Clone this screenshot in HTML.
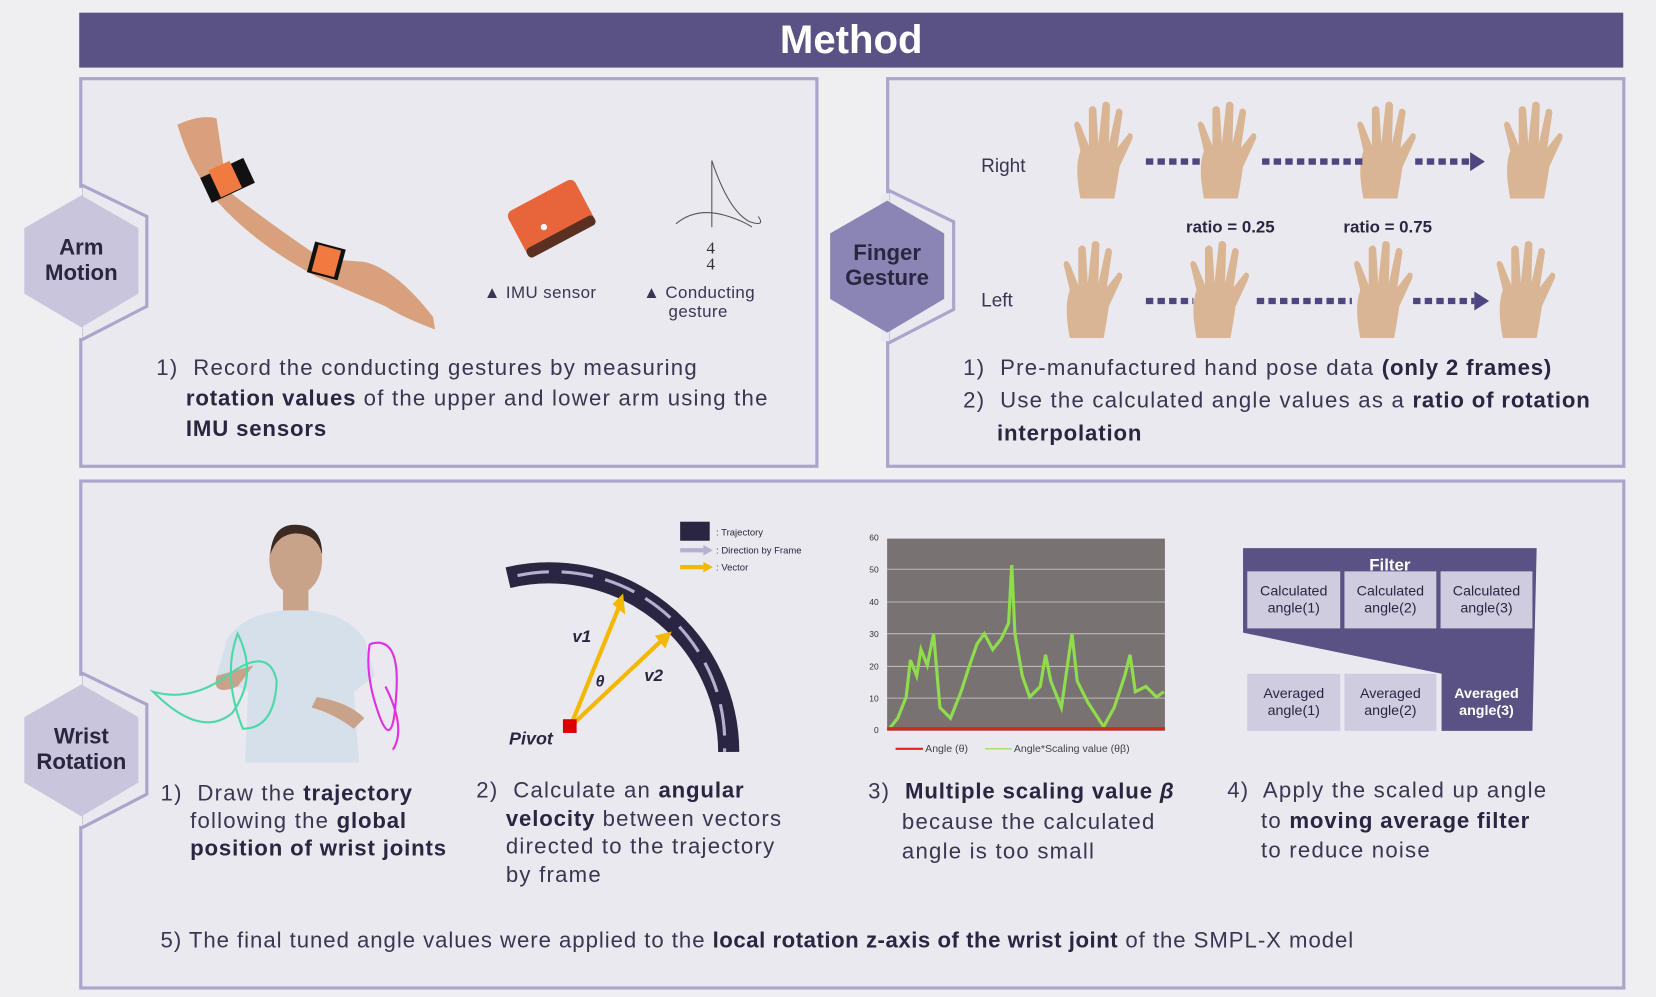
<!DOCTYPE html>
<html><head><meta charset="utf-8"><style>
html,body{margin:0;padding:0;background:#efeff2;width:1656px;height:997px;overflow:hidden}
#w{position:absolute;left:0;top:0;width:1568px;height:944px;transform:scale(1.05612);transform-origin:0 0;font-family:"Liberation Sans",sans-serif;color:#2a2540}
.a{position:absolute}
.panel{position:absolute;background:#e9e9ef;border:3px solid #aaa5cb;box-sizing:border-box}
.t{position:absolute;font-size:21px;line-height:29px;color:#3a3550;letter-spacing:1.15px;white-space:nowrap}
b{color:#2a2540;letter-spacing:0.8px}
.cell{position:absolute;background:#cfcce0;font-size:13.5px;line-height:16px;text-align:center;display:flex;align-items:center;justify-content:center;color:#2a2540}
</style></head><body><div id="w">
<div class="a" style="left:75px;top:12px;width:1462px;height:52px;background:#5a5185;color:#fff;font-weight:bold;font-size:38px;line-height:52px;text-align:center">Method</div>
<div class="panel" style="left:75px;top:73px;width:700px;height:370px"></div>
<div class="panel" style="left:839px;top:73px;width:700px;height:370px"></div>
<div class="panel" style="left:75px;top:454px;width:1464px;height:483px"></div>
<svg class="a" style="left:0;top:0" width="1568" height="944">
<g fill="#e9e9ef" stroke="#aaa5cb" stroke-width="3">
<polygon points="77,175 139,205 139,290 77,322"/>
<polygon points="841,180 903,210 903,293 841,325"/>
<polygon points="77,637 139,667 139,752 77,784"/>
</g>
<rect x="70" y="178" width="8" height="142" fill="#efeff2"/>
<rect x="834" y="183" width="8" height="140" fill="#e9e9ef"/>
<rect x="70" y="640" width="8" height="142" fill="#efeff2"/>
<polygon points="77,185 131,216 131,278 77,310 23,278 23,216" fill="#c8c5dc"/>
<polygon points="840,190 894,221 894,283 840,315 786,283 786,221" fill="#8b85b6"/>
<polygon points="77,648 131,679 131,741 77,773 23,741 23,679" fill="#c8c5dc"/>
<path d="M168,118 Q190,108 205,112 L215,180 Q260,215 305,245 L345,248 Q375,255 410,300 L412,312 Q380,300 365,290 Q330,275 300,262 Q240,230 205,190 Q180,160 168,118Z" fill="#d8a07c"/>
<rect x="193" y="158" width="45" height="26" fill="#111" transform="rotate(-25 215 171)"/>
<rect x="203" y="155" width="22" height="28" fill="#f07a40" transform="rotate(-25 215 171)"/>
<rect x="294" y="232" width="30" height="30" fill="#111" transform="rotate(15 309 247)"/>
<rect x="298" y="234" width="22" height="26" fill="#f07a40" transform="rotate(15 309 247)"/>
<g transform="rotate(-28 520 205)"><rect x="485" y="183" width="72" height="46" rx="6" fill="#e8643a"/><rect x="485" y="222" width="72" height="10" rx="4" fill="#5a3020"/></g>
<circle cx="515" cy="215" r="3" fill="#fff"/>
<path d="M674,152 L674,215 M674,152 Q690,200 710,210 Q725,215 718,205 M640,212 Q660,195 690,205 Q705,210 712,215" stroke="#555" fill="none" stroke-width="1"/>
<text x="669" y="255" font-family="Liberation Serif,serif" font-size="16" fill="#333">4</text>
<text x="669" y="240" font-family="Liberation Serif,serif" font-size="16" fill="#333">4</text>
<defs><g id="h"><path d="M-22,40 Q-28,10 -22,-5 L-28,-30 Q-26,-36 -22,-30 L-14,-10 L-14,-45 Q-10,-50 -7,-45 L-5,-12 L-1,-50 Q3,-54 6,-49 L5,-12 L12,-44 Q16,-47 18,-42 L13,-8 L24,-22 Q29,-22 27,-16 L15,10 Q12,30 10,40Z" fill="#d9b594"/></g></defs>
<use href="#h" x="1045" y="148"/><use href="#h" x="1162" y="148"/><use href="#h" x="1313" y="148"/><use href="#h" x="1452" y="148"/>
<use href="#h" x="1035" y="280"/><use href="#h" x="1155" y="280"/><use href="#h" x="1310" y="280"/><use href="#h" x="1445" y="280"/>
<g stroke="#4d4680" stroke-width="6" stroke-dasharray="7,4"><line x1="1085" y1="153" x2="1140" y2="153"/><line x1="1195" y1="153" x2="1290" y2="153"/><line x1="1340" y1="153" x2="1392" y2="153"/>
<line x1="1085" y1="285" x2="1130" y2="285"/><line x1="1190" y1="285" x2="1280" y2="285"/><line x1="1338" y1="285" x2="1396" y2="285"/></g>
<polygon points="1392,144 1406,153 1392,162" fill="#4d4680"/><polygon points="1396,276 1410,285 1396,294" fill="#4d4680"/>
<ellipse cx="280" cy="530" rx="25" ry="33" fill="#c9a28a"/><path d="M256,525 Q258,495 282,497 Q305,498 305,525 Q300,505 280,505 Q262,506 256,525Z" fill="#3a2a22"/>
<rect x="268" y="558" width="24" height="25" fill="#c9a28a"/>
<path d="M215,605 Q230,582 268,578 L292,578 Q330,582 345,605 L355,640 L335,655 L340,722 L232,722 L235,655 L205,640Z" fill="#d5e0ea"/>
<path d="M205,640 Q200,660 225,650 L240,630 Z M300,660 Q330,665 345,680 L335,690 Q315,675 295,670Z" fill="#c9a28a"/>
<path d="M145,655 Q190,700 220,675 Q245,640 225,600 Q210,640 230,690 Q260,690 262,645 Q255,610 215,640 Q180,665 145,655Z" fill="none" stroke="#4ed8a8" stroke-width="2"/>
<path d="M350,610 Q380,600 375,660 Q372,710 360,680 Q345,640 350,610 M365,650 Q385,690 372,710" fill="none" stroke="#e030e0" stroke-width="2"/>
<path d="M481,547 A170,170 0 0 1 690,712" fill="none" stroke="#2a2540" stroke-width="20"/>
<path d="M490,545 A162,162 0 0 1 686,712" fill="none" stroke="#b4b0d0" stroke-width="3" stroke-dasharray="30,12"/>
<g stroke="#f5b800" stroke-width="4"><line x1="540" y1="688" x2="586" y2="575"/><line x1="540" y1="688" x2="628" y2="605"/></g>
<polygon points="580,572 590,562 592,582" fill="#f5b800"/><polygon points="620,602 636,598 630,614" fill="#f5b800"/>
<rect x="533" y="681" width="13" height="13" fill="#d00"/>
<text x="542" y="608" font-size="16" font-weight="bold" font-style="italic" fill="#2a2540">v1</text>
<text x="610" y="645" font-size="16" font-weight="bold" font-style="italic" fill="#2a2540">v2</text>
<text x="564" y="650" font-size="15" font-weight="bold" font-style="italic" fill="#2a2540">θ</text>
<text x="482" y="705" font-size="17" font-weight="bold" font-style="italic" fill="#2a2540">Pivot</text>
<rect x="644" y="494" width="28" height="18" fill="#2a2540"/>
<line x1="644" y1="521" x2="666" y2="521" stroke="#b4b0d0" stroke-width="4"/><polygon points="666,516 675,521 666,526" fill="#b4b0d0"/>
<line x1="644" y1="537" x2="666" y2="537" stroke="#f5b800" stroke-width="4"/><polygon points="666,532 675,537 666,542" fill="#f5b800"/>
<g font-size="9" fill="#2a2540"><text x="678" y="507">: Trajectory</text><text x="678" y="524">: Direction by Frame</text><text x="678" y="540">: Vector</text></g>
<rect x="840" y="510" width="263" height="182" fill="#787272"/>
<g stroke="#bdb8b8" stroke-width="1"><line x1="840" y1="539" x2="1103" y2="539"/><line x1="840" y1="570" x2="1103" y2="570"/><line x1="840" y1="600" x2="1103" y2="600"/><line x1="840" y1="631" x2="1103" y2="631"/><line x1="840" y1="661" x2="1103" y2="661"/></g>
<g font-size="8" fill="#333" text-anchor="end"><text x="832" y="512">60</text><text x="832" y="542">50</text><text x="832" y="573">40</text><text x="832" y="603">30</text><text x="832" y="634">20</text><text x="832" y="664">10</text><text x="832" y="694">0</text></g>
<polyline fill="none" stroke="#8fdc4c" stroke-width="3" points="842,690 850,680 858,660 862,625 868,640 872,615 878,630 884,600 890,670 900,680 910,655 918,630 925,610 932,600 940,615 948,605 955,590 958,535 961,600 968,640 975,660 985,650 990,620 995,645 1005,670 1015,600 1020,645 1030,665 1045,688 1055,670 1065,640 1070,620 1075,655 1085,650 1095,660 1102,655"/>
<line x1="840" y1="690" x2="1103" y2="690" stroke="#d22" stroke-width="3"/>
<line x1="848" y1="709" x2="874" y2="709" stroke="#d22" stroke-width="2"/><line x1="933" y1="709" x2="958" y2="709" stroke="#8fdc4c" stroke-width="1"/>
<g font-size="10" fill="#444"><text x="876" y="712">Angle (θ)</text><text x="960" y="712">Angle*Scaling value (θβ)</text></g>
<polygon points="1177,519 1455,519 1451,692 1365,692 1365,638 1177,599" fill="#5a5185"/>
<text x="1316" y="540" font-size="16" font-weight="bold" fill="#fff" text-anchor="middle">Filter</text>
<g font-size="18" fill="#3a3550"><text x="929" y="163">Right</text><text x="929" y="290">Left</text></g>
<g font-size="16" font-weight="bold" fill="#2a2540"><text x="1123" y="220">ratio = 0.25</text><text x="1272" y="220">ratio = 0.75</text></g>
<g font-size="16" fill="#3a3550" letter-spacing="0.4"><text x="458" y="282">▲ IMU sensor</text><text x="609" y="282">▲ Conducting</text><text x="633" y="300">gesture</text></g>
<g font-size="21" font-weight="bold" fill="#2a2540" text-anchor="middle"><text x="77" y="241">Arm</text><text x="77" y="265">Motion</text><text x="840" y="246">Finger</text><text x="840" y="270">Gesture</text><text x="77" y="704">Wrist</text><text x="77" y="728">Rotation</text></g>
</svg>
<div class="cell" style="left:1181px;top:541px;width:88px;height:54px">Calculated<br>angle(1)</div>
<div class="cell" style="left:1273px;top:541px;width:87px;height:54px">Calculated<br>angle(2)</div>
<div class="cell" style="left:1364px;top:541px;width:87px;height:54px">Calculated<br>angle(3)</div>
<div class="cell" style="left:1181px;top:638px;width:88px;height:54px">Averaged<br>angle(1)</div>
<div class="cell" style="left:1273px;top:638px;width:87px;height:54px">Averaged<br>angle(2)</div>
<div class="cell" style="left:1364px;top:638px;width:87px;height:54px;background:none;color:#fff;font-weight:bold">Averaged<br>angle(3)</div>
<div class="t" style="left:148px;top:334px">1)&nbsp; Record the conducting gestures by measuring<br><span style="padding-left:28px"><b>rotation values</b> of the upper and lower arm using the</span><br><span style="padding-left:28px"><b>IMU sensors</b></span></div>
<div class="t" style="left:912px;top:333px;line-height:31px">1)&nbsp; Pre-manufactured hand pose data <b>(only 2 frames)</b><br>2)&nbsp; Use the calculated angle values as a <b>ratio of rotation</b><br><span style="padding-left:32px"><b>interpolation</b></span></div>
<div class="t" style="left:152px;top:739px;line-height:26px">1)&nbsp; Draw the <b>trajectory</b><br><span style="padding-left:28px">following the <b>global</b></span><br><span style="padding-left:28px"><b>position of wrist joints</b></span></div>
<div class="t" style="left:451px;top:736px;line-height:26.5px">2)&nbsp; Calculate an <b>angular</b><br><span style="padding-left:28px"><b>velocity</b> between vectors</span><br><span style="padding-left:28px">directed to the trajectory</span><br><span style="padding-left:28px">by frame</span></div>
<div class="t" style="left:822px;top:736px;line-height:28.5px">3)&nbsp; <b>Multiple scaling value <i>β</i></b><br><span style="padding-left:32px">because the calculated</span><br><span style="padding-left:32px">angle is too small</span></div>
<div class="t" style="left:1162px;top:735px;line-height:28.5px">4)&nbsp; Apply the scaled up angle<br><span style="padding-left:32px">to <b>moving average filter</b></span><br><span style="padding-left:32px">to reduce noise</span></div>
<div class="t" style="left:152px;top:876px;letter-spacing:0.9px">5) The final tuned angle values were applied to the <b style="letter-spacing:0.5px">local rotation z-axis of the wrist joint</b> of the SMPL-X model</div>
</div></body></html>
